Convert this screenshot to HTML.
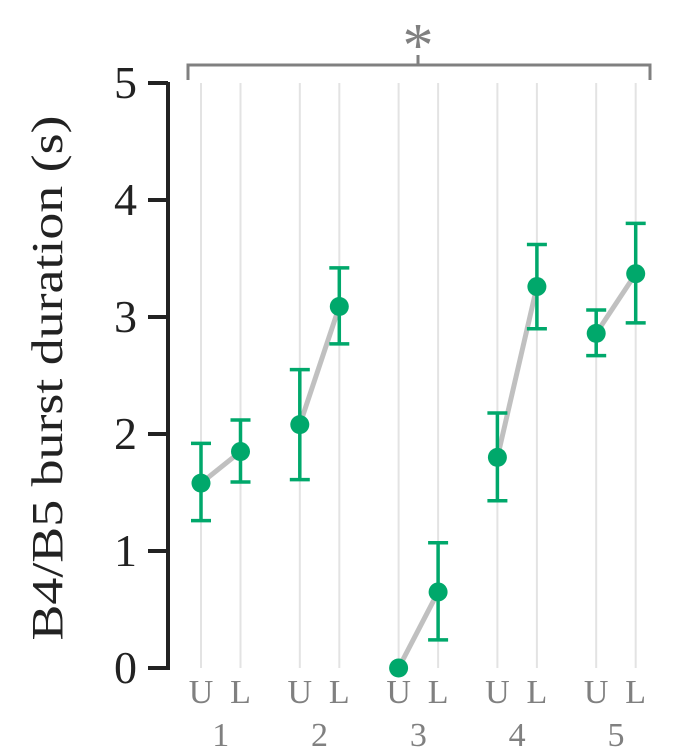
<!DOCTYPE html>
<html><head><meta charset="utf-8"><style>
body{margin:0;background:#fff;}
svg text{font-family:"Liberation Serif",serif;}
</style></head><body>
<svg id="chart" width="675" height="750" viewBox="0 0 675 750" xmlns="http://www.w3.org/2000/svg"></svg>
<script>
const groups=["1","2","3","4","5"];
const conds=["U","L"];
const means=[1.58,1.85,2.08,3.09,0.0,0.65,1.80,3.26,2.86,3.37];
const errLo=[1.26,1.59,1.61,2.77,0.0,0.24,1.43,2.90,2.67,2.95];
const errHi=[1.92,2.12,2.55,3.42,0.0,1.07,2.18,3.62,3.06,3.80];
const yTicks=[0,1,2,3,4,5];
const NS="http://www.w3.org/2000/svg";
const svg=document.getElementById('chart');
const y=v=>668-v*117;
const x=i=>201+Math.floor(i/2)*98.8+(i%2)*39.5;
function mk(t,a,p){const e=document.createElementNS(NS,t);for(const k in a)e.setAttribute(k,a[k]);(p||svg).appendChild(e);return e;}
for(let i=0;i<means.length;i++){
 const g=mk('line',{x1:x(i),x2:x(i),y1:83,y2:668,stroke:'#e3e3e3','stroke-width':2});
 
 
}
const ax=mk('line',{x1:168,x2:168,y1:82,y2:670,stroke:'#222','stroke-width':4});


yTicks.forEach(t=>{
 const tk=mk('line',{x1:148,x2:168,y1:y(t),y2:y(t),stroke:'#222','stroke-width':4});
 
 
 const tl=mk('text',{x:137,y:y(t)+15,'text-anchor':'end','font-size':46,fill:'#222'});
 tl.textContent=t;
 
 
});
const yl=mk('text',{x:0,y:0,'text-anchor':'middle','font-size':44,fill:'#222',textLength:525,lengthAdjust:'spacingAndGlyphs',transform:'translate(62,378) rotate(-90)'});
yl.textContent='B4/B5 burst duration (s)';


for(let g=0;g<groups.length;g++){
 const a=2*g,b=2*g+1;
 const l=mk('line',{x1:x(a),y1:y(means[a]),x2:x(b),y2:y(means[b]),stroke:'#c0c0c0','stroke-width':5});
 
 
}
for(let i=0;i<means.length;i++){
 const c='#00a86b';
 if(errHi[i]>errLo[i]){
  const e=mk('path',{d:`M${x(i)},${y(errLo[i])}V${y(errHi[i])}M${x(i)-10},${y(errLo[i])}H${x(i)+10}M${x(i)-10},${y(errHi[i])}H${x(i)+10}`,stroke:c,'stroke-width':3.5,fill:'none'});
  
  
 }
 const p=mk('circle',{cx:x(i),cy:y(means[i]),r:9.5,fill:c});
 
 
 const cl=mk('text',{x:x(i),y:703,'text-anchor':'middle','font-size':34,fill:'#808080'});
 cl.textContent=conds[i%2];
 
 
}
groups.forEach((g,k)=>{
 const t=mk('text',{x:(x(2*k)+x(2*k+1))/2,y:746,'text-anchor':'middle','font-size':34,fill:'#808080'});
 t.textContent=g;
 
 
});
const br=mk('path',{d:'M188,80V65H650V80M418,65V55',stroke:'#808080','stroke-width':3,fill:'none'});


const st=mk('text',{x:418,y:66,'text-anchor':'middle','font-size':62,fill:'#808080'});
st.textContent='*';


</script>
</body></html>
